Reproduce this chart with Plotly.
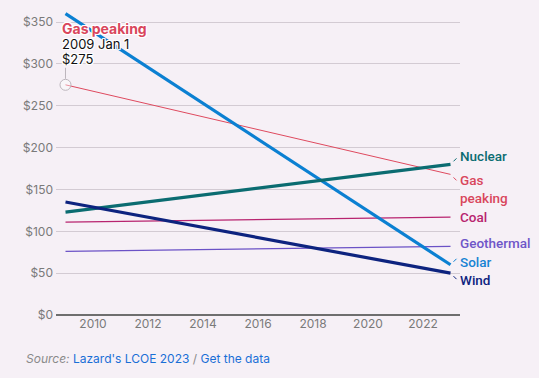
import plotly.graph_objects as go

years = [2009, 2023]
series_names = ["Gas peaking", "Coal", "Geothermal", "Solar", "Nuclear", "Wind"]
gas_peaking = [275, 168]
coal = [111, 117]
geothermal = [76, 82]
solar = [360, 60]
nuclear = [123, 180]
wind = [135, 50]
y_ticks = [0, 50, 100, 150, 200, 250, 300, 350]
x_ticks = [2010, 2012, 2014, 2016, 2018, 2020, 2022]

values = {
    "Gas peaking": gas_peaking, "Coal": coal, "Geothermal": geothermal,
    "Solar": solar, "Nuclear": nuclear, "Wind": wind,
}
colors = {
    "Gas peaking": "#df4a5f", "Coal": "#b8246f", "Geothermal": "#6b52c6",
    "Solar": "#0b80d2", "Nuclear": "#0b6c71", "Wind": "#0d237f",
}
label_colors = {
    "Gas peaking": "#d9465c", "Coal": "#b8246f", "Geothermal": "#6f56c8",
    "Solar": "#1683d3", "Nuclear": "#0b6c71", "Wind": "#0d237f",
}
widths = {"Gas peaking": 1, "Coal": 1.3, "Geothermal": 1.3, "Solar": 3.2, "Nuclear": 3.2, "Wind": 3.2}

FONT = "Inter, 'Open Sans', sans-serif"
LFONT = "Roboto, 'Open Sans', sans-serif"
BG = "#f6f0f6"
halo = "1px 1px 0 #fff, -1px -1px 0 #fff, 1px -1px 0 #fff, -1px 1px 0 #fff, 0 1px 0 #fff, 0 -1px 0 #fff, 1px 0 0 #fff, -1px 0 0 #fff"

fig = go.Figure()
for name in series_names:
    fig.add_trace(go.Scatter(
        x=years, y=values[name], mode="lines", name=name,
        line=dict(color=colors[name], width=widths[name]),
        hoverinfo="skip", showlegend=False,
    ))

# hover marker at first gas peaking point
fig.add_trace(go.Scatter(
    x=[years[0]], y=[gas_peaking[0]], mode="markers",
    marker=dict(size=11, color="rgba(255,255,255,0.4)", line=dict(color="#bdb6bd", width=1)),
    hoverinfo="skip", showlegend=False, cliponaxis=False,
))

shapes = [dict(type="line", xref="x", yref="y", xsizemode="pixel", ysizemode="pixel",
               xanchor=years[0], x0=0, x1=0, yanchor=gas_peaking[0], y0=6, y1=17,
               line=dict(color="#bdb6bd", width=1))]

# end labels: (y pixel shift of label, dash direction)
end_cfg = {
    "Nuclear": (8, 1),
    "Gas peaking": (-15, -1),
    "Coal": (0, 0),
    "Geothermal": (3, 0),
    "Solar": (3, 1),
    "Wind": (-7, -1),
}
annotations = []
for name, (dy, ddir) in end_cfg.items():
    yv = values[name][-1]
    text = "Gas<br>peaking" if name == "Gas peaking" else name
    annotations.append(dict(
        x=years[-1], y=yv, xref="x", yref="y", text=text, showarrow=False,
        xanchor="left", yanchor="middle", xshift=7, yshift=dy, align="left",
        font=dict(family=LFONT, size=13.5, color=label_colors[name], weight=500),
    ))
    if ddir != 0:
        shapes.append(dict(type="line", xref="x", yref="y", xsizemode="pixel", ysizemode="pixel",
                           xanchor=years[-1], x0=3, x1=6, yanchor=yv,
                           y0=3 * ddir, y1=6 * ddir,
                           line=dict(color=colors[name], width=1)))

# hover tooltip text
tip = [("<b>Gas peaking</b>", "#d9465c", 14, 46),
       ("2009 Jan 1", "#111111", 13, 31),
       ("$" + str(gas_peaking[0]), "#111111", 13, 16)]
for txt, col, sz, ys in tip:
    annotations.append(dict(
        x=years[0], y=gas_peaking[0], xref="x", yref="y", text=txt, showarrow=False,
        xanchor="left", yanchor="bottom", xshift=-5, yshift=ys,
        font=dict(family=FONT, size=sz, color=col, shadow=halo),
    ))

# footer
annotations.append(dict(
    xref="paper", yref="paper", x=-0.079, y=-0.142, xanchor="left", yanchor="middle",
    showarrow=False,
    text="<i><span style='color:#8a8a8a'>Source:</span></i> "
         "<span style='color:#1a6fd6'>Lazard's LCOE 2023</span>"
         "<span style='color:#8a8a8a'> / </span>"
         "<span style='color:#1a6fd6'>Get the data</span>",
    font=dict(family=FONT, size=12),
))

fig.update_layout(
    width=539, height=378,
    margin=dict(l=56, r=79, t=12, b=63),
    paper_bgcolor=BG, plot_bgcolor=BG,
    font=dict(family=FONT, size=12, color="#7a7a7a"),
    shapes=shapes, annotations=annotations,
    showlegend=False, hovermode=False,
)
fig.update_xaxes(
    range=[2008.655, 2023.345], tickvals=x_ticks, ticktext=[str(v) for v in x_ticks],
    showgrid=False, zeroline=False, showline=False, ticks="",
    tickfont=dict(family=FONT, size=12, color="#7a7a7a"), fixedrange=True,
)
fig.update_yaxes(
    range=[0, 362], tickvals=y_ticks, ticktext=["$" + str(v) for v in y_ticks],
    showgrid=True, gridcolor="#d3cbd3", gridwidth=1,
    zeroline=True, zerolinecolor="#6e6e6e", zerolinewidth=1.5,
    showline=False, ticks="", ticklabelstandoff=2,
    tickfont=dict(family=FONT, size=12, color="#7a7a7a"), fixedrange=True,
)

fig.write_html(
    "out.html",
    config={"displayModeBar": False},
    post_script="document.body.style.margin='0';document.body.style.background='" + BG + "';"
                "document.body.style.overflow='hidden';",
)
